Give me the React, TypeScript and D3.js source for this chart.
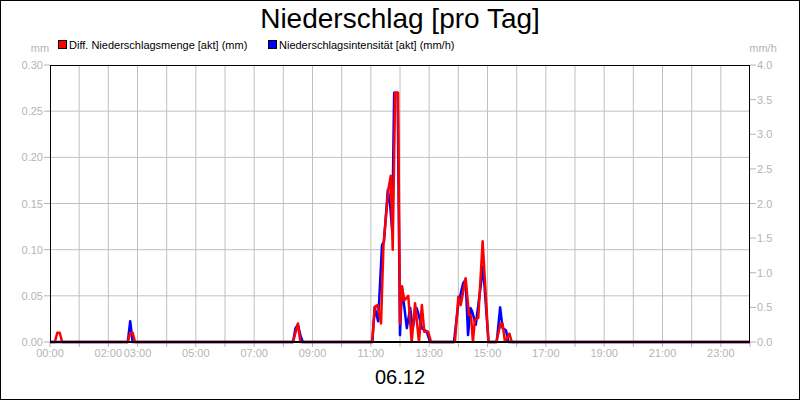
import { line, scaleLinear, range } from 'd3'

const FONT = '"Liberation Sans", Arial, sans-serif'
const GREY = '#b4b4b4'

// red: Diff. Niederschlagsmenge (mm), left axis
const mengeTimes = ['00:00', '00:10', '00:15', '00:20', '00:25', '02:40', '02:45', '02:50', '02:55', '08:20', '08:25', '08:30', '08:35', '11:03', '11:08', '11:14', '11:21', '11:26', '11:36', '11:41', '11:45', '11:50', '11:56', '12:00', '12:04', '12:09', '12:17', '12:24', '12:31', '12:39', '12:45', '12:50', '12:58', '13:04', '13:53', '14:00', '14:05', '14:15', '14:22', '14:26', '14:30', '14:34', '14:41', '14:50', '15:02', '15:18', '15:27', '15:31', '15:36', '15:45', '15:50', '24:00']
const mengeValues = [0, 0, 0.01, 0.01, 0, 0, 0.01, 0.01, 0, 0, 0.01, 0.02, 0, 0, 0.038, 0.04, 0.02, 0.105, 0.165, 0.18, 0.1, 0.27, 0.27, 0.02, 0.06, 0.045, 0.05, 0, 0.042, 0, 0.04, 0.011, 0.011, 0, 0, 0.049, 0.04, 0.069, 0.029, 0.029, 0, 0.024, 0.026, 0.109, 0, 0, 0.02, 0.02, 0, 0.009, 0, 0]

// blue: Niederschlagsintensität (mm/h), right axis
const intensTimes = ['00:00', '02:40', '02:45', '02:50', '08:20', '08:25', '08:30', '08:35', '08:40', '11:03', '11:08', '11:15', '11:23', '11:27', '11:35', '11:40', '11:44', '11:48', '11:55', '12:00', '12:04', '12:14', '12:21', '12:26', '12:34', '12:37', '12:45', '12:55', '13:02', '13:51', '14:00', '14:10', '14:15', '14:20', '14:25', '14:28', '14:36', '14:51', '15:02', '15:19', '15:26', '15:31', '15:38', '15:43', '24:00']
const intensValues = [0, 0, 0.3, 0, 0, 0.2, 0.25, 0.1, 0, 0, 0.5, 0.3, 1.4, 1.45, 2.2, 1.95, 1.6, 3.6, 3.6, 0.1, 0.8, 0.2, 0.49, 0.2, 0.49, 0.43, 0.2, 0.15, 0, 0, 0.55, 0.85, 0.9, 0.1, 0.49, 0.45, 0.25, 1.09, 0, 0, 0.5, 0.2, 0.17, 0, 0]

const leftTicks = [0, 0.05, 0.1, 0.15, 0.2, 0.25, 0.3]
const rightTicks = [0, 0.5, 1, 1.5, 2, 2.5, 3, 3.5, 4]
const hourLabels = ['00:00', '02:00', '03:00', '05:00', '07:00', '09:00', '11:00', '13:00', '15:00', '17:00', '19:00', '21:00', '23:00']

const toMin = (s: string) => {
  const [h, m] = s.split(':').map(Number)
  return h * 60 + m
}

export default function App() {
  const width = 800
  const height = 400
  const x = scaleLinear().domain([0, 1440]).range([50, 750])
  const yL = scaleLinear().domain([0, 0.3]).range([342, 65])
  const yR = scaleLinear().domain([0, 4]).range([342, 65])

  const menge = mengeTimes.map((t, i) => ({ t: toMin(t), v: mengeValues[i] }))
  const intens = intensTimes.map((t, i) => ({ t: toMin(t), v: intensValues[i] }))

  const redPath = line<{ t: number; v: number }>()
    .x((d) => x(d.t))
    .y((d) => yL(d.v))(menge)
  const bluePath = line<{ t: number; v: number }>()
    .x((d) => x(d.t))
    .y((d) => yR(d.v))(intens)

  const hours = range(0, 25)

  return (
    <svg width={width} height={height} style={{ position: 'absolute', left: 0, top: 0 }} fontFamily={FONT}>
      <rect x={0.5} y={0.5} width={width - 1} height={height - 1} fill="#fff" stroke="#000" />
      <text x={400} y={28} textAnchor="middle" fontSize={28}>
        Niederschlag [pro Tag]
      </text>

      {/* legend */}
      <rect x={58.5} y={40.5} width={8} height={8} fill="#ff0000" stroke="#000" />
      <text x={69} y={49} fontSize={11}>
        Diff. Niederschlagsmenge [akt] (mm)
      </text>
      <rect x={268.5} y={40.5} width={8} height={8} fill="#0000ff" stroke="#000" />
      <text x={279} y={49} fontSize={11}>
        Niederschlagsintensität [akt] (mm/h)
      </text>

      <text x={40} y={52} textAnchor="middle" fontSize={11} fill={GREY}>
        mm
      </text>
      <text x={763} y={52} textAnchor="middle" fontSize={11} fill={GREY}>
        mm/h
      </text>

      {/* grid */}
      {hours.slice(1, 24).map((h) => (
        <line key={'v' + h} x1={x(h * 60)} x2={x(h * 60)} y1={65} y2={342} stroke="#c0c0c0" />
      ))}
      {leftTicks.slice(1, 6).map((v) => (
        <line key={'h' + v} x1={50} x2={750} y1={yL(v)} y2={yL(v)} stroke="#c0c0c0" />
      ))}

      {/* left axis */}
      {leftTicks.map((v) => (
        <g key={'l' + v}>
          <line x1={44} x2={50} y1={yL(v)} y2={yL(v)} stroke={GREY} />
          <text x={43} y={yL(v) + 4} textAnchor="end" fontSize={11} fill={GREY}>
            {v.toFixed(2)}
          </text>
        </g>
      ))}
      {/* right axis */}
      {rightTicks.map((v) => (
        <g key={'r' + v}>
          <line x1={750} x2={756} y1={yR(v)} y2={yR(v)} stroke={GREY} />
          <text x={757} y={yR(v) + 4} fontSize={11} fill={GREY}>
            {v.toFixed(1)}
          </text>
        </g>
      ))}
      {/* x ticks */}
      {hours.map((h) => (
        <line key={'t' + h} x1={x(h * 60)} x2={x(h * 60)} y1={342} y2={347} stroke={GREY} />
      ))}
      {hourLabels.map((l) => (
        <text key={l} x={x(toMin(l))} y={357} textAnchor="middle" fontSize={11} fill={GREY}>
          {l}
        </text>
      ))}

      <path d={bluePath ?? ''} fill="none" stroke="#0000ff" strokeWidth={2.5} strokeLinejoin="round" />
      <path d={redPath ?? ''} fill="none" stroke="#ff0000" strokeWidth={2.5} strokeLinejoin="round" />

      {/* frame */}
      <line x1={50.5} x2={50.5} y1={65} y2={342} stroke="#000" />
      <line x1={749.5} x2={749.5} y1={65} y2={342} stroke="#000" />
      <line x1={50} x2={750} y1={65.5} y2={65.5} stroke="#000" />
      <line x1={50} x2={750} y1={342} y2={342} stroke="#000" strokeWidth={2} />

      <text x={400} y={384} textAnchor="middle" fontSize={20}>
        06.12
      </text>
    </svg>
  )
}
